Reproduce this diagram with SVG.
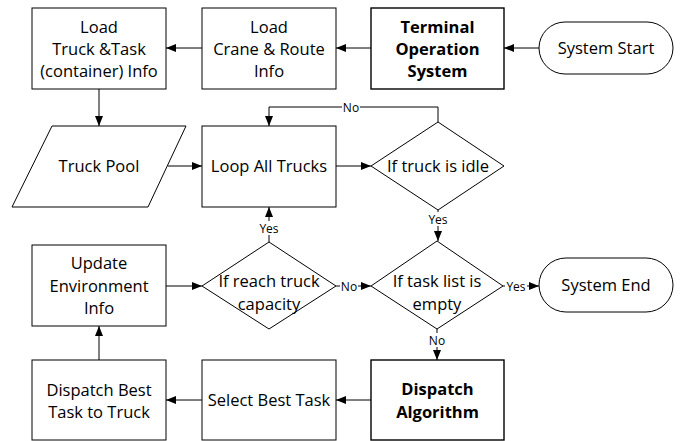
<svg xmlns="http://www.w3.org/2000/svg" width="681" height="441" viewBox="0 0 681 441">
  <style>
    .box { fill: #ffffff; stroke: #000000; stroke-width: 1; }
    .strong { stroke-width: 1.4; }
    .t { font-family: "Open Sans", Lato, "Liberation Sans", sans-serif; font-size: 16.5px; fill: #000000; text-anchor: middle; }
    .b { font-weight: bold; }
    .lbl { font-family: "Open Sans", Lato, "Liberation Sans", sans-serif; font-size: 12px; fill: #000000; text-anchor: middle; }
    .edge { fill: none; stroke: #000000; stroke-width: 1; }
    .pad { fill: #ffffff; stroke: none; }
  </style>
  <defs>
    <marker id="arrow" markerUnits="userSpaceOnUse" markerWidth="10" markerHeight="10" viewBox="0 0 10 10" refX="10" refY="5" orient="auto">
      <path d="M0,1 L10,5 L0,9 Z" fill="#000000"/>
    </marker>
  </defs>
  <rect width="681" height="441" fill="#ffffff"/>

  <!-- connectors -->
  <g id="connectors">
    <line class="edge" x1="539" y1="48" x2="504" y2="48" marker-end="url(#arrow)"/>
    <line class="edge" x1="371" y1="48" x2="336" y2="48" marker-end="url(#arrow)"/>
    <line class="edge" x1="202" y1="48" x2="166" y2="48" marker-end="url(#arrow)"/>
    <line class="edge" x1="99" y1="89" x2="99" y2="126" marker-end="url(#arrow)"/>
    <line class="edge" x1="168" y1="166" x2="202" y2="166" marker-end="url(#arrow)"/>
    <line class="edge" x1="336" y1="166" x2="371" y2="166" marker-end="url(#arrow)"/>
    <polyline class="edge" points="438,122 438,107 269,107 269,126" marker-end="url(#arrow)"/>
    <line class="edge" x1="438" y1="210" x2="438" y2="241" marker-end="url(#arrow)"/>
    <line class="edge" x1="503" y1="286" x2="539" y2="286" marker-end="url(#arrow)"/>
    <line class="edge" x1="437" y1="329" x2="437" y2="360" marker-end="url(#arrow)"/>
    <line class="edge" x1="371" y1="400" x2="336" y2="400" marker-end="url(#arrow)"/>
    <line class="edge" x1="202" y1="400" x2="166" y2="400" marker-end="url(#arrow)"/>
    <line class="edge" x1="99" y1="360" x2="99" y2="326" marker-end="url(#arrow)"/>
    <line class="edge" x1="166" y1="286" x2="202" y2="286" marker-end="url(#arrow)"/>
    <line class="edge" x1="336" y1="286" x2="371" y2="286" marker-end="url(#arrow)"/>
    <line class="edge" x1="269" y1="242" x2="269" y2="207" marker-end="url(#arrow)"/>

    <!-- edge labels -->
    <rect class="pad" x="342" y="100" width="18" height="14"/>
    <text class="lbl" x="351" y="111.5">No</text>
    <rect class="pad" x="427" y="212" width="22" height="14"/>
    <text class="lbl" x="438" y="223.5">Yes</text>
    <rect class="pad" x="505" y="279" width="22" height="14"/>
    <text class="lbl" x="516" y="290.5">Yes</text>
    <rect class="pad" x="428" y="333" width="18" height="14"/>
    <text class="lbl" x="437" y="344.5">No</text>
    <rect class="pad" x="340" y="279" width="18" height="14"/>
    <text class="lbl" x="349" y="290.5">No</text>
    <rect class="pad" x="258" y="221" width="22" height="14"/>
    <text class="lbl" x="269" y="232.5">Yes</text>
  </g>

  <!-- nodes -->
  <g id="system-start">
    <rect class="box" x="539" y="22" width="134" height="52" rx="26" ry="26"/>
    <text class="t" x="606" y="53.5">System Start</text>
  </g>
  <g id="terminal-operation-system">
    <rect class="box strong" x="371" y="8" width="133" height="81"/>
    <text class="t b" x="437.5" y="32.5">Terminal</text>
    <text class="t b" x="437.5" y="54.5">Operation</text>
    <text class="t b" x="437.5" y="76.5">System</text>
  </g>
  <g id="load-crane-route">
    <rect class="box" x="202" y="8" width="134" height="81"/>
    <text class="t" x="269" y="32.5">Load</text>
    <text class="t" x="269" y="54.5">Crane &amp; Route</text>
    <text class="t" x="269" y="76.5">Info</text>
  </g>
  <g id="load-truck-task">
    <rect class="box" x="32" y="8" width="134" height="81"/>
    <text class="t" x="99" y="32.5">Load</text>
    <text class="t" x="99" y="54.5">Truck &amp;Task</text>
    <text class="t" x="99" y="76.5">(container) Info</text>
  </g>
  <g id="truck-pool">
    <polygon class="box" points="52,126 186,126 148,207 12,207"/>
    <text class="t" x="99" y="171.5">Truck Pool</text>
  </g>
  <g id="loop-all-trucks">
    <rect class="box" x="202" y="126" width="134" height="81"/>
    <text class="t" x="269" y="171.5">Loop All Trucks</text>
  </g>
  <g id="if-truck-idle">
    <polygon class="box" points="371,166 438,122 504,166 438,210"/>
    <text class="t" x="438" y="172">If truck is idle</text>
  </g>
  <g id="if-task-list-empty">
    <polygon class="box" points="371,286 437,241 503,286 437,329"/>
    <text class="t" x="437" y="287">If task list is</text>
    <text class="t" x="437" y="310">empty</text>
  </g>
  <g id="system-end">
    <rect class="box" x="539" y="258" width="134" height="54" rx="27" ry="27"/>
    <text class="t" x="606" y="290.5">System End</text>
  </g>
  <g id="if-reach-capacity">
    <polygon class="box" points="202,286 269,242 336,286 269,329"/>
    <text class="t" x="269" y="287">If reach truck</text>
    <text class="t" x="269" y="310">capacity</text>
  </g>
  <g id="update-environment">
    <rect class="box" x="32" y="245" width="134" height="81"/>
    <text class="t" x="99" y="268.5">Update</text>
    <text class="t" x="99" y="291.5">Environment</text>
    <text class="t" x="99" y="313.5">Info</text>
  </g>
  <g id="dispatch-best-task">
    <rect class="box" x="32" y="360" width="134" height="80"/>
    <text class="t" x="99" y="395.5">Dispatch Best</text>
    <text class="t" x="99" y="417.5">Task to Truck</text>
  </g>
  <g id="select-best-task">
    <rect class="box" x="202" y="360" width="134" height="80"/>
    <text class="t" x="269" y="405.5">Select Best Task</text>
  </g>
  <g id="dispatch-algorithm">
    <rect class="box strong" x="371" y="360" width="133" height="80"/>
    <text class="t b" x="437.5" y="394.5">Dispatch</text>
    <text class="t b" x="437.5" y="417.5">Algorithm</text>
  </g>
</svg>
